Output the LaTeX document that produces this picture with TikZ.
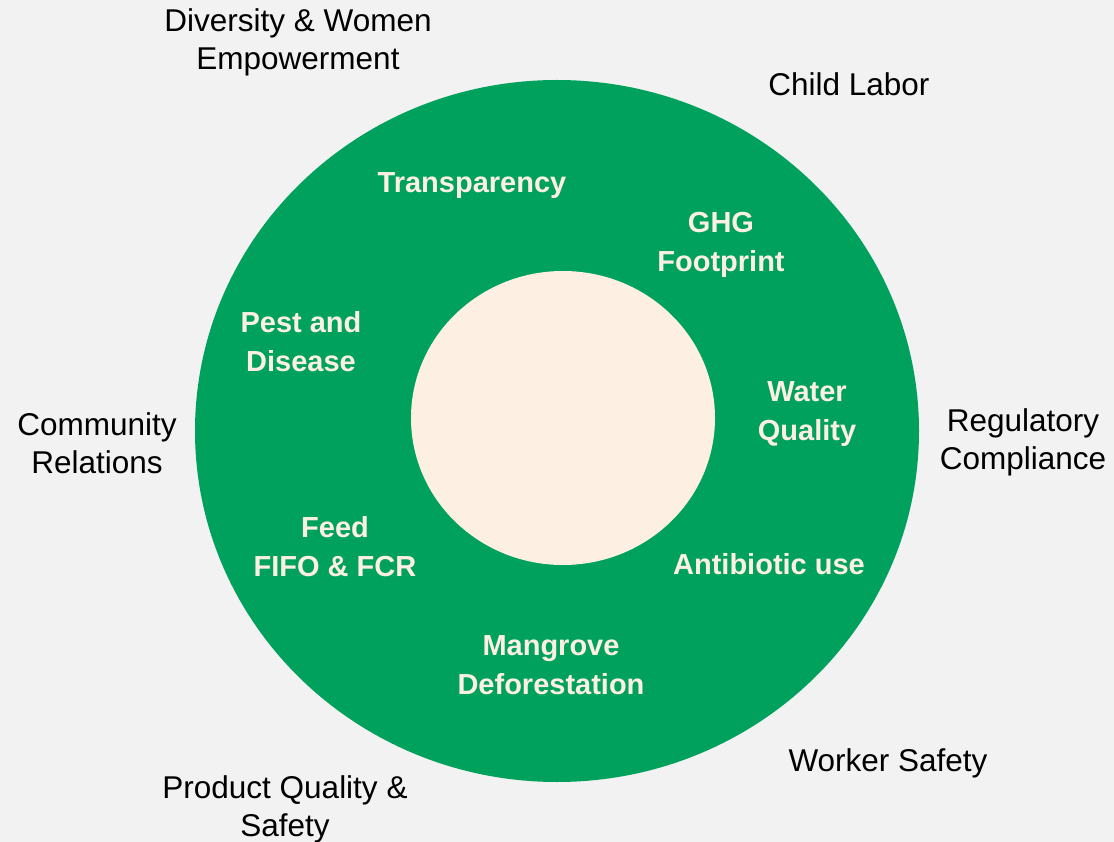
\documentclass[tikz,border=0pt]{standalone}
\usepackage{fontspec}
\setmainfont{Liberation Sans}
\usepackage{tikz}
\usetikzlibrary{shapes.geometric}
\definecolor{ringgreen}{HTML}{00A15C}
\definecolor{corecream}{HTML}{FDEFE2}
\definecolor{paper}{HTML}{F2F2F2}

\begin{document}
\begin{tikzpicture}[x=1pt,y=-1pt,
    disc/.style={ellipse,inner sep=0pt,outer sep=0pt},
    outer/.style={align=center,text=black,font=\fontsize{31.5}{38}\selectfont},
    inner/.style={align=center,text=corecream,font=\bfseries\fontsize{29}{39}\selectfont}]
  \fill[paper] (0,0) rectangle (1114,842);
  \useasboundingbox (0,0) rectangle (1114,842);
  \node[disc,fill=ringgreen,minimum width=724pt,minimum height=702pt] (ring) at (557,431) {};
  \node[disc,fill=corecream,minimum width=304pt,minimum height=294pt] (core) at (563,418) {};
  % topics on the ring
  \path (472,186) node[inner] (transp) {Transparency}
        (721,245) node[inner] (ghg) {GHG\\Footprint}
        (301,342) node[inner] (pest) {Pest and\\Disease}
        (807,414) node[inner] (water) {Water\\Quality}
        (335,547) node[inner] (feed) {Feed\\FIFO \& FCR}
        (769,564) node[inner] (antib) {Antibiotic use}
        (551,665) node[inner] (mangr) {Mangrove\\Deforestation};
  % social topics round it
  \path (298,42) node[outer] (divers) {Diversity \& Women\\Empowerment}
        (849,84) node[outer] (child) {Child Labor}
        (97,443) node[outer] (commun) {Community\\Relations}
        (1023,442) node[outer] (regul) {Regulatory\\Compliance}
        (285,809) node[outer] (product) {Product Quality \&\\Safety}
        (888,763) node[outer] (worker) {Worker Safety};
\end{tikzpicture}
\end{document}
